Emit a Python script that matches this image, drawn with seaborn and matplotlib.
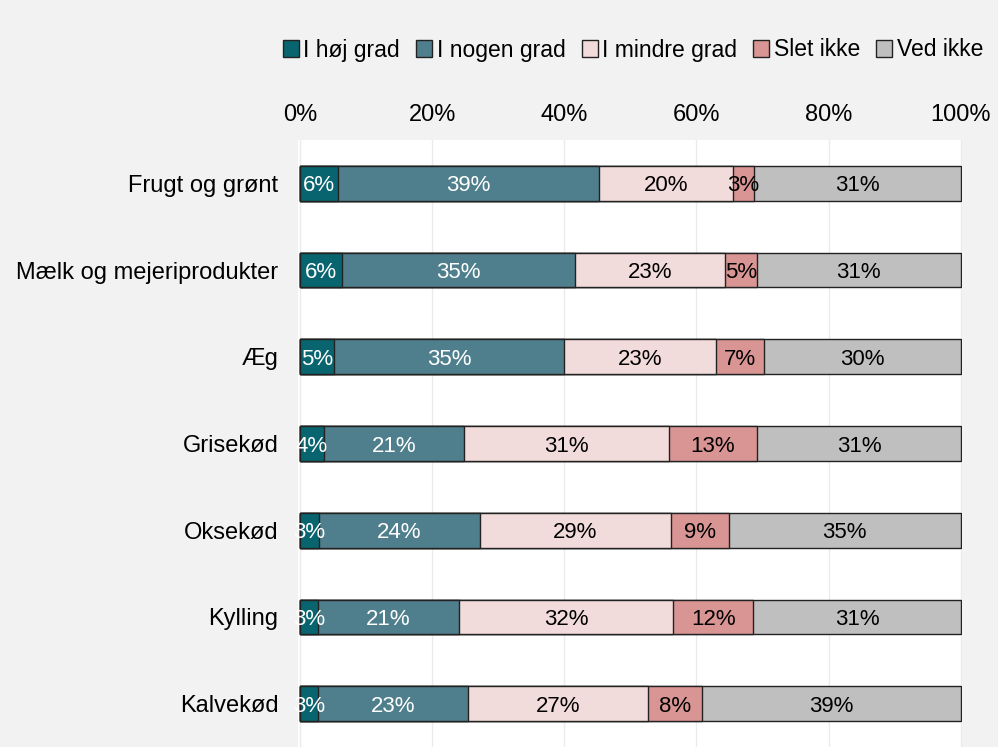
import matplotlib
matplotlib.use("Agg")
import matplotlib.pyplot as plt
import numpy as np
import pandas as pd
import seaborn as sns

categories = ["Frugt og grønt", "Mælk og mejeriprodukter", "Æg", "Grisekød",
              "Oksekød", "Kylling", "Kalvekød"]
series = ["I høj grad", "I nogen grad", "I mindre grad", "Slet ikke", "Ved ikke"]

hoej = [5.8, 6.3, 5.1, 3.6, 2.9, 2.7, 2.7]
nogen = [39.4, 35.4, 34.9, 21.2, 24.3, 21.4, 22.7]
mindre = [20.3, 22.7, 22.9, 31.0, 29.0, 32.4, 27.3]
slet = [3.2, 4.7, 7.4, 13.4, 8.7, 12.1, 8.1]
ved = [31.3, 30.9, 29.7, 30.8, 35.1, 31.4, 39.2]

colors = ["#08646E", "#4F7F8C", "#F2DCDB", "#D99594", "#BFBFBF"]
text_colors = ["white", "white", "black", "black", "black"]

df = pd.DataFrame({"Kategori": categories, series[0]: hoej, series[1]: nogen,
                   series[2]: mindre, series[3]: slet, series[4]: ved})
cum = df[series].cumsum(axis=1)

sns.set_theme(style="white")
plt.rcParams["font.family"] = ["Liberation Sans", "DejaVu Sans"]
plt.rcParams["text.color"] = "black"
plt.rcParams["xtick.color"] = "black"
plt.rcParams["ytick.color"] = "black"

fig = plt.figure(figsize=(9.98, 7.47), dpi=100, facecolor="#f2f2f2")
ax = fig.add_axes([298 / 998, 0, 664 / 998, 1 - 140 / 747])
ax.set_facecolor("white")

# stacked bars: draw cumulative totals from the right, each covering the left part
for i in range(len(series) - 1, -1, -1):
    sns.barplot(x=cum[series[i]], y=df["Kategori"], color=colors[i], orient="h",
                width=0.4, edgecolor="#222222", linewidth=1.0, saturation=1,
                label=series[i], ax=ax, zorder=2)

for i, s in enumerate(series):
    for j in range(len(categories)):
        val = df[s].iloc[j]
        centre = cum[s].iloc[j] - val / 2
        ax.text(centre, j, f"{val:.0f}%", ha="center", va="center_baseline",
                fontsize=16, color=text_colors[i], zorder=3)

ax.set_xlim(-0.3, 100.2)
ax.set_ylim(6.5, -0.5)
ax.xaxis.tick_top()
ax.set_xticks([0, 20, 40, 60, 80, 100])
ax.set_xticklabels([f"{v}%" for v in [0, 20, 40, 60, 80, 100]])
ax.tick_params(axis="x", length=0, pad=10, labelsize=17)
ax.tick_params(axis="y", length=0, pad=14, labelsize=17)
ax.set_xlabel("")
ax.set_ylabel("")
ax.xaxis.grid(True, color="#ebebeb", linewidth=1, zorder=0)
ax.set_axisbelow(True)
for sp in ax.spines.values():
    sp.set_visible(False)

handles, labels = ax.get_legend_handles_labels()
if ax.legend_:
    ax.legend_.remove()
handles, labels = handles[::-1], labels[::-1]
fig.legend(handles, labels, loc="center", bbox_to_anchor=(633 / 998, 1 - 50 / 747),
           ncol=5, frameon=False, fontsize=16.5, handlelength=0.7, handleheight=0.7,
           handletextpad=0.2, columnspacing=0.7)

fig.savefig("out.png", dpi=100, facecolor=fig.get_facecolor())
